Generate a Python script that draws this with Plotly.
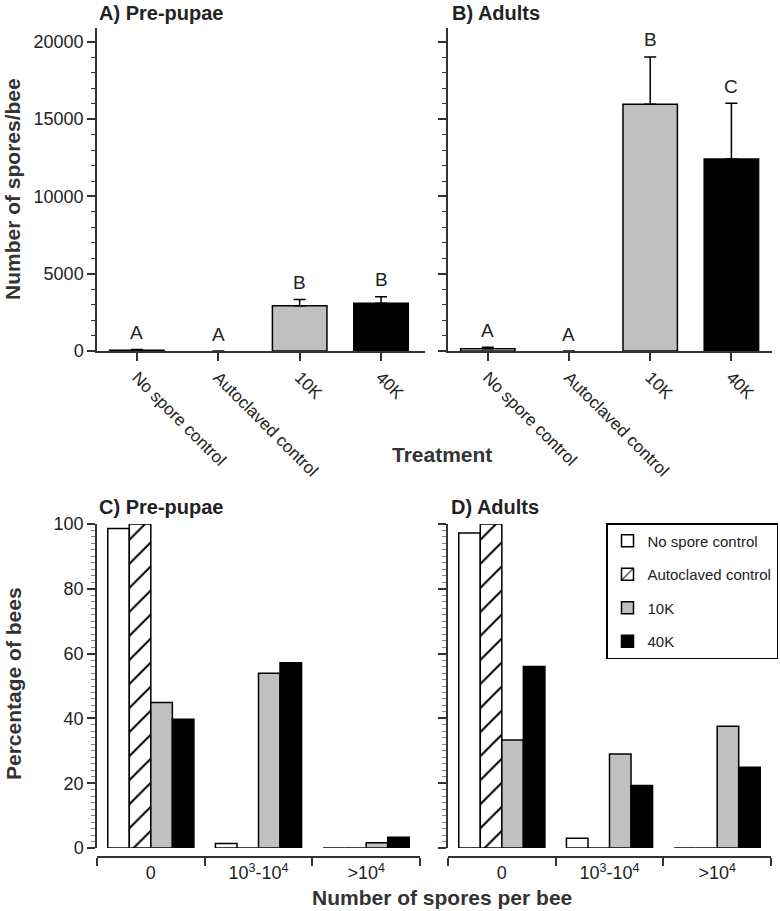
import plotly.graph_objects as go

# ---------------- data ----------------
treatments = ["No spore control", "Autoclaved control", "10K", "40K"]
prepupae_mean = [50, 0, 2930, 3090]
prepupae_err = [50, 0, 410, 420]
prepupae_letters = ["A", "A", "B", "B"]
adults_mean = [150, 0, 15970, 12430]
adults_err = [90, 0, 3060, 3600]
adults_letters = ["A", "A", "B", "C"]

bins = ["0", "10<sup>3</sup>-10<sup>4</sup>", ">10<sup>4</sup>"]
pct_prepupae = {
    "No spore control": [98.6, 1.4, 0],
    "Autoclaved control": [100, 0, 0],
    "10K": [44.9, 53.9, 1.6],
    "40K": [39.7, 57.2, 3.3],
}
pct_adults = {
    "No spore control": [97.2, 3.0, 0],
    "Autoclaved control": [100, 0, 0],
    "10K": [33.3, 29.0, 37.6],
    "40K": [56.0, 19.3, 24.9],
}

# ---------------- styles ----------------
FONT = "Liberation Sans, Arial, sans-serif"
TXT = "#222222"
AX = "#333333"
fills = {"No spore control": "white", "Autoclaved control": "white", "10K": "#c0c0c0", "40K": "black"}

W, H = 780, 911


def px_x(v):
    return v / W


def px_y(v):
    return (H - v) / H


fig = go.Figure()

# ---------------- top panels ----------------
for xa, ya, means, errs, letters in [
    ("x", "y", prepupae_mean, prepupae_err, prepupae_letters),
    ("x2", "y2", adults_mean, adults_err, adults_letters),
]:
    fig.add_trace(go.Bar(
        x=treatments, y=means, xaxis=xa, yaxis=ya, width=0.67,
        marker=dict(color=[fills[t] for t in treatments],
                    line=dict(color="black", width=[1.5 if m > 0 else 0 for m in means])),
        error_y=dict(type="data", symmetric=False, array=errs, arrayminus=[0] * len(errs),
                     color="black", thickness=1.5, width=6),
        showlegend=False, hoverinfo="skip",
    ))
    for t, m, e, L in zip(treatments, means, errs, letters):
        fig.add_annotation(x=t, y=m + e, xref=xa, yref=ya, text=L, showarrow=False,
                           yanchor="middle", yshift=17,
                           font=dict(family=FONT, size=19, color=TXT))

# ---------------- bottom panels ----------------
for xa, ya, data, show in [("x3", "y3", pct_prepupae, True), ("x4", "y4", pct_adults, False)]:
    for t in treatments:
        marker = dict(color=fills[t], line=dict(color="black", width=1.5))
        if t == "Autoclaved control":
            marker["pattern"] = dict(shape="/", fgcolor="black", bgcolor="white", fgopacity=1,
                                     size=17, solidity=0.12)
        fig.add_trace(go.Bar(
            x=bins, y=data[t], xaxis=xa, yaxis=ya, name=t, marker=marker,
            legendgroup=t, showlegend=show, hoverinfo="skip",
        ))

ytop_dom = [px_y(351), px_y(28)]
ybot_dom = [px_y(848), px_y(524)]

common = dict(linecolor=AX, linewidth=1.5, tickcolor=AX, tickwidth=1.5, showgrid=False,
              zeroline=False, showline=True, automargin=False)
yfont = dict(family=FONT, size=18, color=TXT)
xfont_top = dict(family=FONT, size=17, color=TXT)
xfont_bot = dict(family=FONT, size=18, color=TXT)

fig.update_layout(
    width=W, height=H, margin=dict(l=0, r=0, t=0, b=0, pad=0),
    paper_bgcolor="white", plot_bgcolor="white",
    barmode="group", bargap=0.2, bargroupgap=0,
    font=dict(family=FONT, color=TXT),
    xaxis=dict(domain=[px_x(97), px_x(425)], anchor="y", type="category", range=[-0.49, 3.54],
               ticks="outside", ticklen=8, tickangle=45, tickfont=xfont_top, **common),
    yaxis=dict(domain=ytop_dom, anchor="x", range=[0, 20900], dtick=5000, tickformat="d",
               ticks="outside", ticklen=8, tickfont=yfont,
               minor=dict(dtick=1000, ticks="outside", ticklen=4, tickcolor=AX, tickwidth=1),
               **common),
    xaxis2=dict(domain=[px_x(448), px_x(772)], anchor="y2", type="category", range=[-0.49, 3.5],
                ticks="outside", ticklen=8, tickangle=45, tickfont=xfont_top, **common),
    yaxis2=dict(domain=ytop_dom, anchor="x2", range=[0, 20900], dtick=5000, ticks="outside", ticklen=8,
                showticklabels=False,
                minor=dict(dtick=1000, ticks="outside", ticklen=4, tickcolor=AX, tickwidth=1),
                **common),
    xaxis3=dict(domain=[px_x(97), px_x(420)], anchor="free", position=px_y(857), type="category",
                range=[-0.5, 2.5], ticks="outside", ticklen=8, tickson="boundaries",
                tickfont=xfont_bot, **common),
    yaxis3=dict(domain=ybot_dom, anchor="x3", range=[0, 100], dtick=20, ticks="outside", ticklen=8,
                tickfont=yfont,
                minor=dict(dtick=2, ticks="outside", ticklen=4, tickcolor="#888888", tickwidth=1),
                **common),
    xaxis4=dict(domain=[px_x(448), px_x(771)], anchor="free", position=px_y(857), type="category",
                range=[-0.5, 2.5], ticks="outside", ticklen=8, tickson="boundaries",
                tickfont=xfont_bot, **common),
    yaxis4=dict(domain=ybot_dom, anchor="x4", range=[0, 100], dtick=20, ticks="outside", ticklen=8,
                showticklabels=False,
                minor=dict(dtick=2, ticks="outside", ticklen=4, tickcolor="#888888", tickwidth=1),
                **common),
    legend=dict(x=px_x(606), y=px_y(523), xanchor="left", yanchor="top",
                bordercolor="black", borderwidth=1.5, bgcolor="white",
                font=dict(family=FONT, size=15, color=TXT),
                traceorder="grouped", tracegroupgap=11),
)

# panel titles and axis titles
titles = [
    ("A) Pre-pupae", 97, 13), ("B) Adults", 450, 13),
    ("C) Pre-pupae", 97, 507), ("D) Adults", 449, 507),
]
for txt, x, y in titles:
    fig.add_annotation(text=f"<b>{txt}</b>", x=px_x(x), y=px_y(y), xref="paper", yref="paper",
                       xanchor="left", yanchor="middle", showarrow=False,
                       font=dict(family=FONT, size=20, color=TXT))

axis_titles = [
    ("Number of spores/bee", 13, 189, -90),
    ("Percentage of bees", 13, 684, -90),
    ("Treatment", 442, 455, 0),
    ("Number of spores per bee", 442, 897, 0),
]
for txt, x, y, ang in axis_titles:
    fig.add_annotation(text=f"<b>{txt}</b>", x=px_x(x), y=px_y(y), xref="paper", yref="paper",
                       xanchor="center", yanchor="middle", showarrow=False, textangle=ang,
                       font=dict(family=FONT, size=21, color="#333333"))

fig.write_html("out.html", config={"displayModeBar": False},
               post_script="document.body.style.margin='0px';")
